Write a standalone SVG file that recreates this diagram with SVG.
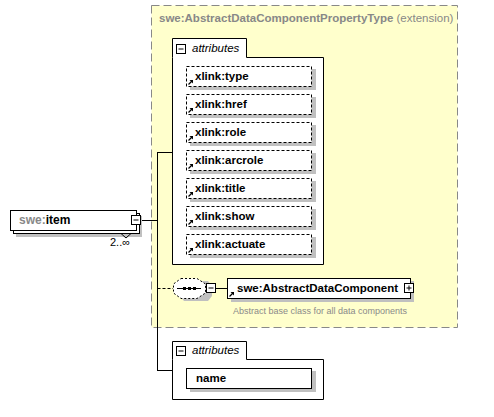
<svg xmlns="http://www.w3.org/2000/svg" width="494" height="417" viewBox="0 0 494 417">
<defs>
<style>
text{font-family:"Liberation Sans",Arial,sans-serif;}
.b{font-weight:bold;font-size:11.5px;fill:#000;}
.it{font-style:italic;font-size:11.5px;fill:#000;}
.g{fill:#888;}
.box{fill:#fff;stroke:#000;stroke-width:1;}
.dbox{fill:#fff;stroke:#000;stroke-width:1;stroke-dasharray:3,2;}
.sh{fill:#c0c0c0;}
.ln{fill:none;stroke:#000;stroke-width:1;}
</style>
<g id="arr">
<path d="M0.5,5.5 L4,2" stroke="#000" stroke-width="1.2" fill="none"/>
<path d="M1.5,1 L5,1 L5,4.5 Z" fill="#000"/>
</g>
<g id="minus">
<rect x="0.5" y="0.5" width="9" height="9" fill="#fff" stroke="#000"/>
<path d="M2.5,5 H7.5" stroke="#000"/>
</g>
</defs>
<rect width="494" height="417" fill="#fff"/>

<g id="extension">
<rect x="151.5" y="5.5" width="306" height="322" fill="#ffffcc" stroke="#888" stroke-dasharray="8,4"/>
<text x="159" y="22" font-size="11.5" font-weight="bold" class="g">swe:AbstractDataComponentPropertyType <tspan font-weight="normal">(extension)</tspan></text>
</g>

<g id="connectors">
<path class="ln" d="M141,220.5 H157.5 M157.5,152 V370.5 M157,152.5 H172 M157,370.5 H172"/>
<path class="ln" d="M157.5,288.5 H173" stroke-dasharray="3,2"/>
<path class="ln" d="M216,288.5 H227"/>
</g>

<g id="attributes1">
<path class="box" d="M172.5,57.5 V38.5 H246.5 V57.5 H323.5 V264.5 H172.5 Z"/>
<use href="#minus" x="176" y="44"/>
<text class="it" x="192" y="52">attributes</text>
</g>

<g id="att-type"><rect class="sh" x="190" y="69" width="126" height="21"/><rect class="dbox" x="186.5" y="66.5" width="125" height="20"/><use href="#arr" x="188" y="79"/><text class="b" x="195" y="80">xlink:type</text></g>
<g id="att-href"><rect class="sh" x="190" y="97" width="126" height="21"/><rect class="dbox" x="186.5" y="94.5" width="125" height="20"/><use href="#arr" x="188" y="107"/><text class="b" x="195" y="108">xlink:href</text></g>
<g id="att-role"><rect class="sh" x="190" y="125" width="126" height="21"/><rect class="dbox" x="186.5" y="122.5" width="125" height="20"/><use href="#arr" x="188" y="135"/><text class="b" x="195" y="136">xlink:role</text></g>
<g id="att-arcrole"><rect class="sh" x="190" y="153" width="126" height="21"/><rect class="dbox" x="186.5" y="150.5" width="125" height="20"/><use href="#arr" x="188" y="163"/><text class="b" x="195" y="164">xlink:arcrole</text></g>
<g id="att-title"><rect class="sh" x="190" y="181" width="126" height="21"/><rect class="dbox" x="186.5" y="178.5" width="125" height="20"/><use href="#arr" x="188" y="191"/><text class="b" x="195" y="192">xlink:title</text></g>
<g id="att-show"><rect class="sh" x="190" y="209" width="126" height="21"/><rect class="dbox" x="186.5" y="206.5" width="125" height="20"/><use href="#arr" x="188" y="219"/><text class="b" x="195" y="220">xlink:show</text></g>
<g id="att-actuate"><rect class="sh" x="190" y="237" width="126" height="21"/><rect class="dbox" x="186.5" y="234.5" width="125" height="20"/><use href="#arr" x="188" y="247"/><text class="b" x="195" y="248">xlink:actuate</text></g>

<g id="item">
<rect class="sh" x="16" y="216" width="126" height="21"/>
<rect class="box" x="13.5" y="213.5" width="126" height="20"/>
<rect class="box" x="10.5" y="210.5" width="126" height="20"/>
<path class="ln" d="M121,233.5 L126,238 L131,233.5"/>
<use href="#minus" x="131" y="215"/>
<text x="19" y="224" font-size="12" font-weight="bold"><tspan class="g">swe:</tspan><tspan fill="#000">item</tspan></text>
<text x="110" y="246" font-size="11" fill="#000">2..∞</text>
</g>

<g id="sequence">
<path class="sh" d="M184,281 H208 L212,286 V296 L208,301 H184 L180,296 V286 Z"/>
<path fill="#fff" stroke="#000" stroke-dasharray="2,2" d="M181,278.5 H197 L205.5,284 V293 L197,298.5 H181 L173.5,293 V284 Z"/>
<path class="ln" d="M177,288.5 H201"/>
<rect x="183" y="287" width="3" height="3" fill="#000"/>
<rect x="188" y="287" width="3" height="3" fill="#000"/>
<rect x="193" y="287" width="3" height="3" fill="#000"/>
<use href="#minus" x="206" y="283"/>
</g>

<g id="AbstractDataComponent">
<rect class="sh" x="231" y="281" width="183" height="21"/>
<rect class="box" x="227.5" y="278.5" width="183" height="20"/>
<use href="#arr" x="229" y="291"/>
<text class="b" x="237" y="292">swe:AbstractDataComponent</text>
<rect x="404.5" y="283.5" width="9" height="9" fill="#fff" stroke="#000"/>
<path d="M406.5,288 H411.5 M409,285.5 V290.5" stroke="#000"/>
<text x="233" y="314" font-size="9" fill="#8a8a8a">Abstract base class for all data components</text>
</g>

<g id="attributes2">
<path class="box" d="M172.5,359.5 V341.5 H246.5 V359.5 H323.5 V399.5 H172.5 Z"/>
<use href="#minus" x="176" y="346"/>
<text class="it" x="192" y="354">attributes</text>
</g>

<g id="att-name">
<rect class="sh" x="190" y="371" width="126" height="21"/>
<rect class="box" x="186.5" y="368.5" width="125" height="20"/>
<text class="b" x="196" y="382">name</text>
</g>
</svg>
